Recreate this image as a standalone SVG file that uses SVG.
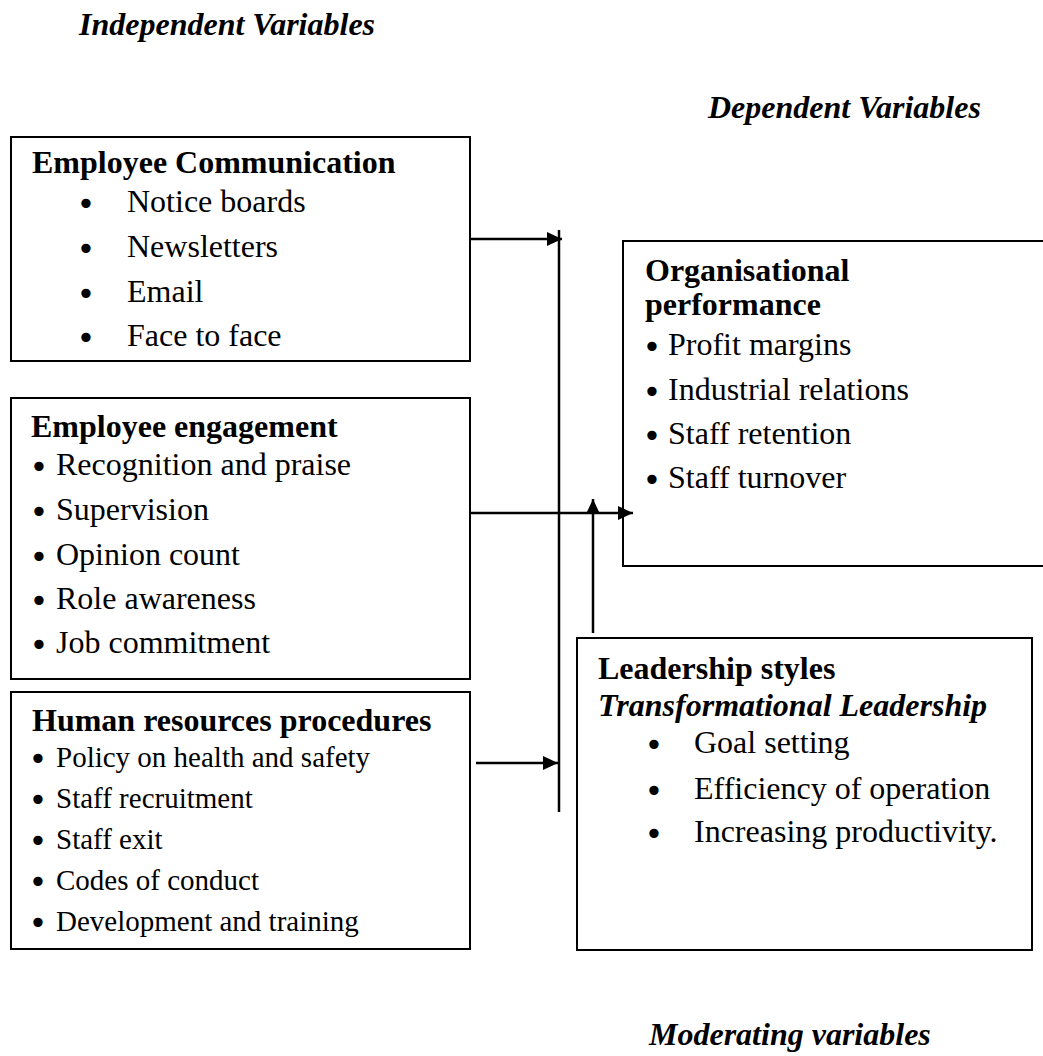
<svg xmlns="http://www.w3.org/2000/svg" width="1043" height="1056" viewBox="0 0 1043 1056">
<style>
.box{fill:#fff;stroke:#000;stroke-width:2}
.t{font-family:"Liberation Serif","Times New Roman",serif;font-size:32px;fill:#000}
.b{font-weight:bold}
.bi{font-weight:bold;font-style:italic}
.s{font-size:29px}
.d{font-family:"DejaVu Sans",sans-serif;font-size:32px;text-anchor:middle;fill:#000}
.c{stroke:#000;stroke-width:2.5;fill:none}
</style>
<defs>
<marker id="ah" markerUnits="userSpaceOnUse" markerWidth="16" markerHeight="15" refX="15" refY="7" orient="auto">
<path d="M0,0 L15,7 L0,14 z" fill="#000"/>
</marker>
</defs>
<rect width="1043" height="1056" fill="#fff"/>
<text class="t bi" x="79" y="35">Independent Variables</text>
<text class="t bi" x="708" y="118">Dependent Variables</text>
<text class="t bi" x="649" y="1045">Moderating variables</text>

<g id="employee-communication">
<rect class="box" x="11" y="137" width="459" height="224"/>
<text class="t b" x="32" y="173">Employee Communication</text>
<text class="d" x="86" y="215">•</text><text class="t" x="127" y="212">Notice boards</text>
<text class="d" x="86" y="260">•</text><text class="t" x="127" y="257">Newsletters</text>
<text class="d" x="86" y="305">•</text><text class="t" x="127" y="302">Email</text>
<text class="d" x="86" y="349">•</text><text class="t" x="127" y="346">Face to face</text>
</g>

<g id="employee-engagement">
<rect class="box" x="11" y="398" width="459" height="281"/>
<text class="t b" x="31" y="437">Employee engagement</text>
<text class="d" x="39" y="478">•</text><text class="t" x="56" y="475">Recognition and praise</text>
<text class="d" x="39" y="523">•</text><text class="t" x="56" y="520">Supervision</text>
<text class="d" x="39" y="568">•</text><text class="t" x="56" y="565">Opinion count</text>
<text class="d" x="39" y="612">•</text><text class="t" x="56" y="609">Role awareness</text>
<text class="d" x="39" y="656">•</text><text class="t" x="56" y="653">Job commitment</text>
</g>

<g id="hr-procedures">
<rect class="box" x="11" y="692" width="459" height="257"/>
<text class="t b" x="32" y="731">Human resources procedures</text>
<text class="d" x="38" y="770">•</text><text class="t s" x="56" y="767">Policy on health and safety</text>
<text class="d" x="38" y="811">•</text><text class="t s" x="56" y="808">Staff recruitment</text>
<text class="d" x="38" y="852">•</text><text class="t s" x="56" y="849">Staff exit</text>
<text class="d" x="38" y="893">•</text><text class="t s" x="56" y="890">Codes of conduct</text>
<text class="d" x="38" y="934">•</text><text class="t s" x="56" y="931">Development and training</text>
</g>

<g id="organisational-performance">
<rect class="box" x="623" y="241" width="440" height="325"/>
<text class="t b" x="645" y="281">Organisational</text>
<text class="t b" x="645" y="315">performance</text>
<text class="d" x="652" y="358">•</text><text class="t" x="668" y="355">Profit margins</text>
<text class="d" x="652" y="403">•</text><text class="t" x="668" y="400">Industrial relations</text>
<text class="d" x="652" y="447">•</text><text class="t" x="668" y="444">Staff retention</text>
<text class="d" x="652" y="491">•</text><text class="t" x="668" y="488">Staff turnover</text>
</g>

<g id="leadership-styles">
<rect class="box" x="577" y="638" width="455" height="312"/>
<text class="t b" x="598" y="679">Leadership styles</text>
<text class="t bi" x="598" y="716">Transformational Leadership</text>
<text class="d" x="654" y="756">•</text><text class="t" x="694" y="753">Goal setting</text>
<text class="d" x="654" y="802">•</text><text class="t" x="694" y="799">Efficiency of operation</text>
<text class="d" x="654" y="845">•</text><text class="t" x="694" y="842">Increasing productivity.</text>
</g>

<g id="connectors">
<path class="c" d="M559,230 V812"/>
<path class="c" d="M470,239 H562" marker-end="url(#ah)"/>
<path class="c" d="M470,513 H633" marker-end="url(#ah)"/>
<path class="c" d="M593,633 V499" marker-end="url(#ah)"/>
<path class="c" d="M476,763 H558" marker-end="url(#ah)"/>
</g>
</svg>
